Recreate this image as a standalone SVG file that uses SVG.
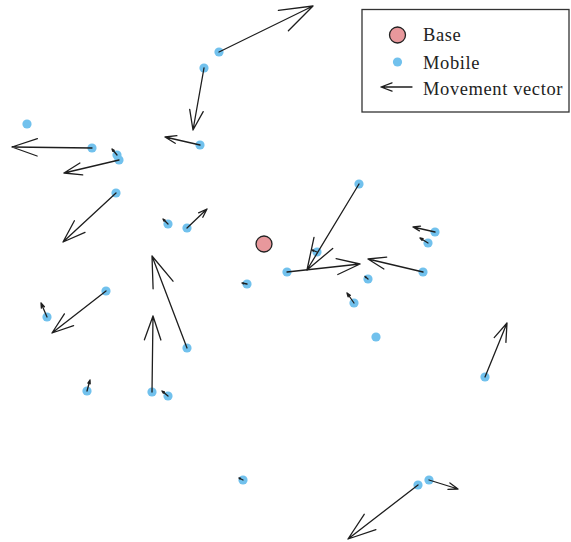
<svg xmlns="http://www.w3.org/2000/svg" width="571" height="542" viewBox="0 0 571 542">
  <style>
    .mobile { fill: #71c1ed; }
    .base { fill: #e8989c; stroke: #222; stroke-width: 1.3; }
    .vec { fill: none; stroke: #1e1e1e; stroke-width: 1.3; stroke-linecap: round; stroke-linejoin: round; }
    .legend-box { fill: #fff; stroke: #333; stroke-width: 1.3; }
    .label { font-family: "Liberation Serif", "Times New Roman", serif; font-size: 18.5px; fill: #222; letter-spacing: 0.6px; }
  </style>
  <rect width="571" height="542" fill="#fff"/>

  <!-- mobile stations -->
  <g id="mobiles">
    <circle id="m1" class="mobile" cx="219" cy="52" r="4.6"/>
    <circle id="m2" class="mobile" cx="204" cy="68" r="4.6"/>
    <circle id="m3" class="mobile" cx="200" cy="145" r="4.6"/>
    <circle id="m4" class="mobile" cx="27" cy="124" r="4.6"/>
    <circle id="m5" class="mobile" cx="92" cy="148" r="4.6"/>
    <circle id="m6" class="mobile" cx="117" cy="155" r="4.6"/>
    <circle id="m7" class="mobile" cx="119" cy="160" r="4.6"/>
    <circle id="m8" class="mobile" cx="116" cy="193" r="4.6"/>
    <circle id="m9" class="mobile" cx="168" cy="224" r="4.6"/>
    <circle id="m10" class="mobile" cx="187" cy="228" r="4.6"/>
    <circle id="m11" class="mobile" cx="359" cy="184" r="4.6"/>
    <circle id="m12" class="mobile" cx="317" cy="252" r="4.6"/>
    <circle id="m13" class="mobile" cx="287" cy="272" r="4.6"/>
    <circle id="m14" class="mobile" cx="423" cy="272" r="4.6"/>
    <circle id="m15" class="mobile" cx="368" cy="279" r="4.6"/>
    <circle id="m16" class="mobile" cx="354" cy="303" r="4.6"/>
    <circle id="m17" class="mobile" cx="247" cy="284" r="4.6"/>
    <circle id="m18" class="mobile" cx="435" cy="232" r="4.6"/>
    <circle id="m19" class="mobile" cx="428" cy="243" r="4.6"/>
    <circle id="m20" class="mobile" cx="376" cy="337" r="4.6"/>
    <circle id="m21" class="mobile" cx="106" cy="291" r="4.6"/>
    <circle id="m22" class="mobile" cx="47" cy="317" r="4.6"/>
    <circle id="m23" class="mobile" cx="187" cy="348" r="4.6"/>
    <circle id="m24" class="mobile" cx="152" cy="392" r="4.6"/>
    <circle id="m25" class="mobile" cx="168" cy="396" r="4.6"/>
    <circle id="m26" class="mobile" cx="87" cy="391" r="4.6"/>
    <circle id="m27" class="mobile" cx="485" cy="377" r="4.6"/>
    <circle id="m28" class="mobile" cx="418" cy="485" r="4.6"/>
    <circle id="m29" class="mobile" cx="429" cy="480" r="4.6"/>
    <circle id="m30" class="mobile" cx="243" cy="480" r="4.6"/>
  </g>

  <!-- movement vectors: shaft plus open head (head = 1/3 of length, ~19 deg) -->
  <g id="vectors" class="vec">
    <path d="M219 52L313 6M278.4 10.3L313 6L288.4 30.7"/>
    <path d="M204 68L193 130M203.2 111.6L193 130L189.7 109.3"/>
    <path d="M200 145L165 137M175.2 143.3L165 137L176.9 135.7"/>
    <path d="M92 148L12 147M37.1 156L12 147L37.4 138.6"/>
    <path d="M119 160L64 173M82.7 174.9L64 173L79.9 163"/>
    <path d="M117 155L112 149M112.9 151.4L112 149L114.2 150.3"/>
    <path d="M116 193L63 242M85 232.3L63 242L74.4 220.8"/>
    <path d="M168 224L163 219M164 221.1L163 219L165.1 220"/>
    <path d="M187 228L207 209M198.6 212.8L207 209L202.8 217.2"/>
    <path d="M359 184L307 270M332.7 248.5L307 270L314 237.3"/>
    <path d="M317 252L312 250M313.4 251.2L312 250L313.8 250.1"/>
    <path d="M287 272L360 264M336.1 258.6L360 264L337.8 274.5"/>
    <path d="M423 272L368 259M383.9 269L368 259L386.7 257.1"/>
    <path d="M368 279L365 276.5M365.7 277.6L365 276.5L366.2 277"/>
    <path d="M354 303L347 293M348.1 296.9L347 293L350.3 295.4"/>
    <path d="M247 284L242 283M243.5 283.9L242 283L243.7 282.8"/>
    <path d="M435 232L413 227M419.4 230.9L413 227L420.5 226.2"/>
    <path d="M428 243L420 238M422 240.4L420 238L423.1 238.7"/>
    <path d="M106 291L52 333M73.6 325.6L52 333L64.4 313.9"/>
    <path d="M47 317L41 303M41.4 308.1L41 303L44.4 306.8"/>
    <path d="M187 348L152 256M153.1 288.8L152 256L173 281.2"/>
    <path d="M152 392L153 316M144.4 339.8L153 316L160.9 340"/>
    <path d="M168 396L162 391M163.3 393.2L162 391L164.4 391.9"/>
    <path d="M87 391L90 380M87.9 383.1L90 380L90.2 383.8"/>
    <path d="M485 377L507 323M494.2 337.6L507 323L505.9 342.4"/>
    <path d="M418 485L348 539M375.9 529.6L348 539L364.2 514.3"/>
    <path d="M429 480L458 489M449.9 483L458 489L447.9 489.3"/>
    <path d="M243 480L239 478M240 479.1L239 478L240.5 478.2"/>
  </g>

  <!-- base station -->
  <g id="base">
    <circle class="base" cx="264" cy="244" r="8"/>
  </g>

  <!-- legend -->
  <g id="legend">
    <rect class="legend-box" x="362" y="9.5" width="207" height="102.5"/>
    <circle class="base" cx="397.5" cy="35" r="8"/>
    <text class="label" x="423" y="40.5">Base</text>
    <circle class="mobile" cx="397.5" cy="62" r="4.6"/>
    <text class="label" x="423" y="68.5">Mobile</text>
    <path class="vec" d="M412 87L381 87M392 82.8L381 87L392 91.2"/>
    <text class="label" x="423" y="95">Movement vector</text>
  </g>
</svg>
